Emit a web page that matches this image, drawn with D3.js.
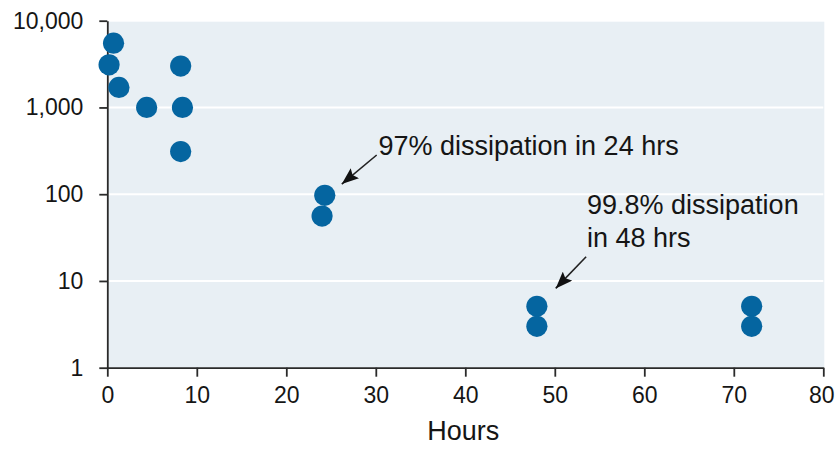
<!DOCTYPE html>
<html>
<head>
<meta charset="utf-8">
<script src="https://cdn.jsdelivr.net/npm/d3@7"></script>
<style>
  html, body { margin: 0; padding: 0; background: #ffffff; }
  svg { display: block; font-family: "Liberation Sans", Arial, Helvetica, sans-serif; }
</style>
</head>
<body>
<svg id="chart" width="835" height="450"></svg>
<script>
// Residue concentration over time (log scale)
const hours  = [0.2, 0.7, 1.3, 4.4, 8.2, 8.4, 8.2, 24.3, 24.0, 48, 48, 72, 72];
const values = [3100, 5500, 1700, 1000, 3000, 1000, 310, 97, 56, 5.1, 3.0, 5.1, 3.0];

const xTicks = [0, 10, 20, 30, 40, 50, 60, 70, 80];
const yTicks = [1, 10, 100, 1000, 10000];
const gridValues = [10, 100, 1000];

const xLabel = "Hours";

// Callouts: text lines with an arrow pointing at the data
const notes = [
  { lines: ["97% dissipation in 24 hrs"], tx: 30.3, ty: [282], from: [30.1, 283], to: [26.2, 131] },
  { lines: ["99.8% dissipation", "in 48 hrs"], tx: 53.6, ty: [58.7, 24.8], from: [53.5, 19], to: [50.1, 8.2] }
];

const W = 835, H = 450;
const margin = { top: 20.7, right: 11.7, bottom: 82.3, left: 107.3 };

const svg = d3.select("#chart");

const x = d3.scaleLinear().domain([0, 80]).range([margin.left, W - margin.right]);
const y = d3.scaleLog().domain([1, 10000]).range([H - margin.bottom, margin.top]);

// Plot background panel
svg.append("rect")
  .attr("x", x(0))
  .attr("y", y(10000) + 1)
  .attr("width", x(80) - x(0) + 1)
  .attr("height", y(1) - y(10000) - 1)
  .attr("fill", "#e8eff4");

// Horizontal white gridlines
svg.append("g")
  .selectAll("line")
  .data(gridValues)
  .join("line")
  .attr("x1", x(0))
  .attr("x2", x(80))
  .attr("y1", d => y(d))
  .attr("y2", d => y(d))
  .attr("stroke", "#ffffff")
  .attr("stroke-width", 2);

// Axes
const yAxis = svg.append("g")
  .attr("transform", `translate(${x(0)},0)`)
  .call(d3.axisLeft(y)
    .tickValues(yTicks)
    .tickFormat(d3.format(","))
    .tickSize(8)
    .tickSizeOuter(0)
    .tickPadding(16));

const xAxis = svg.append("g")
  .attr("transform", `translate(0,${y(1)})`)
  .call(d3.axisBottom(x)
    .tickValues(xTicks)
    .tickFormat(d3.format("d"))
    .tickSize(9)
    .tickSizeOuter(0)
    .tickPadding(10));

[yAxis, xAxis].forEach(g => {
  g.selectAll("path.domain").attr("stroke", "#2a2a2a").attr("stroke-width", 1.8);
  g.selectAll(".tick line").attr("stroke", "#2a2a2a").attr("stroke-width", 1.8);
  g.selectAll(".tick text")
    .attr("fill", "#151515")
    .style("font-size", "23px")
    .style("font-family", '"Liberation Sans", Arial, sans-serif');
});

// keep the last x label inside the page edge
xAxis.selectAll(".tick text")
  .filter(d => d === 80)
  .attr("text-anchor", "end")
  .attr("x", W - 1 - x(80));

// X axis title
svg.append("text")
  .attr("x", (x(0) + x(80)) / 2 - 2)
  .attr("y", 440)
  .attr("text-anchor", "middle")
  .attr("fill", "#151515")
  .style("font-size", "27px")
  .text(xLabel);

// Data points
svg.append("g")
  .selectAll("circle")
  .data(hours.map((h, i) => ({ h, v: values[i] })))
  .join("circle")
  .attr("cx", d => x(d.h))
  .attr("cy", d => y(d.v))
  .attr("r", 10.6)
  .attr("fill", "#0565a0");

// Arrowhead marker
svg.append("defs").append("marker")
  .attr("id", "arrowhead")
  .attr("viewBox", "0 0 17 13")
  .attr("refX", 17)
  .attr("refY", 6.5)
  .attr("markerWidth", 17)
  .attr("markerHeight", 13)
  .attr("markerUnits", "userSpaceOnUse")
  .attr("orient", "auto")
  .append("path")
  .attr("d", "M0,0 L17,6.5 L0,13 L3,6.5 Z")
  .attr("fill", "#111");

// Callouts
const noteG = svg.append("g");
notes.forEach(n => {
  noteG.append("line")
    .attr("x1", x(n.from[0]))
    .attr("y1", y(n.from[1]))
    .attr("x2", x(n.to[0]))
    .attr("y2", y(n.to[1]))
    .attr("stroke", "#222")
    .attr("stroke-width", 1.6)
    .attr("marker-end", "url(#arrowhead)");
  n.lines.forEach((t, i) => {
    noteG.append("text")
      .attr("x", x(n.tx))
      .attr("y", y(n.ty[i]))
      .attr("fill", "#151515")
      .style("font-size", "27px")
      .text(t);
  });
});
</script>
</body>
</html>
